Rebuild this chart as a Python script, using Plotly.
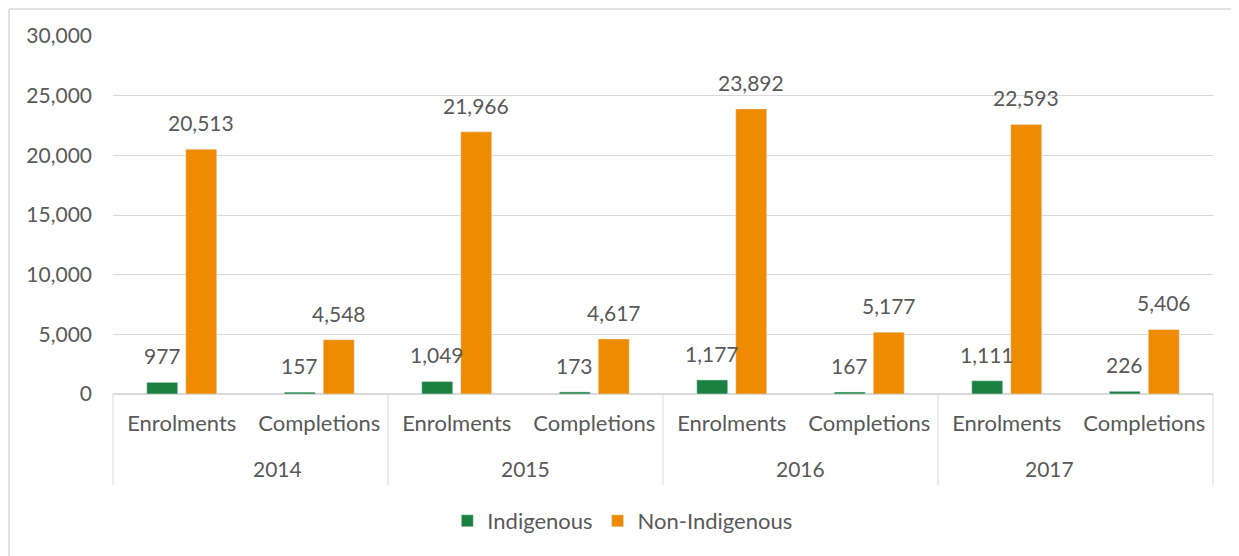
import plotly.graph_objects as go

years = ["2014", "2015", "2016", "2017"]
categories = ["Enrolments", "Completions"]
indigenous = [977, 157, 1049, 173, 1177, 167, 1111, 226]
non_indigenous = [20513, 4548, 21966, 4617, 23892, 5177, 22593, 5406]
y_ticks = [0, 5000, 10000, 15000, 20000, 25000, 30000]

GREEN = "#1b8140"
ORANGE = "#ee8b00"
TEXT = "#595959"
GRID = "#d9d9d9"
FONT = "Lato"
FS = 21

n_cat = len(categories)
labels = [c for _ in years for c in categories]
xpos = list(range(len(labels)))

bargap = 0.433
bargroupgap = 0.205
slot = (1 - bargap) / 2

fig = go.Figure()
fig.add_bar(x=xpos, y=indigenous, name="Indigenous", marker_color=GREEN)
fig.add_bar(x=xpos, y=non_indigenous, name="Non-Indigenous", marker_color=ORANGE)

annotations = []
for k, (a, b) in enumerate(zip(indigenous, non_indigenous)):
    for off, v in ((-slot / 2, a), (slot / 2, b)):
        annotations.append(dict(x=k + off, y=v, xref="x", yref="y", text=f"{v:,}",
                                showarrow=False, yanchor="bottom", yshift=12,
                                font=dict(family=FONT, size=FS, color=TEXT)))

plot_h = 358
plot_w = 1100
for i, yr in enumerate(years):
    annotations.append(dict(x=(i * n_cat + (n_cat - 1) / 2 + 0.5) / len(labels), y=(394 - 468) / plot_h,
                            xref="paper", yref="paper", text=yr, showarrow=False,
                            yanchor="middle", font=dict(family=FONT, size=FS, color=TEXT)))

shapes = []
for i in range(len(years) + 1):
    xp = i * n_cat / len(labels)
    shapes.append(dict(type="line", xref="paper", yref="paper", x0=xp, x1=xp,
                       y0=0, y1=(394 - 485) / plot_h, line=dict(color=GRID, width=1)))

# outer chart border (left and top visible)
bx = (9 - 113) / plot_w
by = (394 - 9) / plot_h
shapes.append(dict(type="line", xref="paper", yref="paper", x0=bx, x1=bx, y0=by, y1=-0.6,
                   line=dict(color=GRID, width=1.5)))
shapes.append(dict(type="line", xref="paper", yref="paper", x0=bx, x1=1.1, y0=by, y1=by,
                   line=dict(color=GRID, width=1.5)))

# page body has an 8px margin; size figure so the plot area lands at x 113-1213, y 36-394
fig.update_layout(
    width=1231, height=548,
    margin=dict(l=105, r=26, t=28, b=162),
    paper_bgcolor="white", plot_bgcolor="white",
    barmode="group", bargap=bargap, bargroupgap=bargroupgap,
    font=dict(family=FONT, size=FS, color=TEXT),
    showlegend=True,
    legend=dict(orientation="h", x=0.463, xanchor="center", y=(394 - 521) / plot_h,
                yanchor="middle", font=dict(family=FONT, size=22, color=TEXT),
                itemwidth=30, traceorder="normal"),
    annotations=annotations,
    shapes=shapes,
)
fig.update_xaxes(range=[-0.5, len(labels) - 0.5], tickvals=xpos, ticktext=labels,
                 showgrid=False, showline=True, linecolor=GRID, linewidth=1,
                 ticks="", ticklabelstandoff=10, zeroline=False,
                 tickfont=dict(family=FONT, size=22, color=TEXT))
fig.update_yaxes(range=[0, 30000], tickvals=y_ticks, tickformat=",",
                 showgrid=True, gridcolor=GRID, gridwidth=1, zeroline=True,
                 zerolinecolor=GRID, showline=False, ticks="", ticklabelstandoff=20,
                 tickfont=dict(family=FONT, size=FS, color=TEXT))

fig.write_html("out.html")
